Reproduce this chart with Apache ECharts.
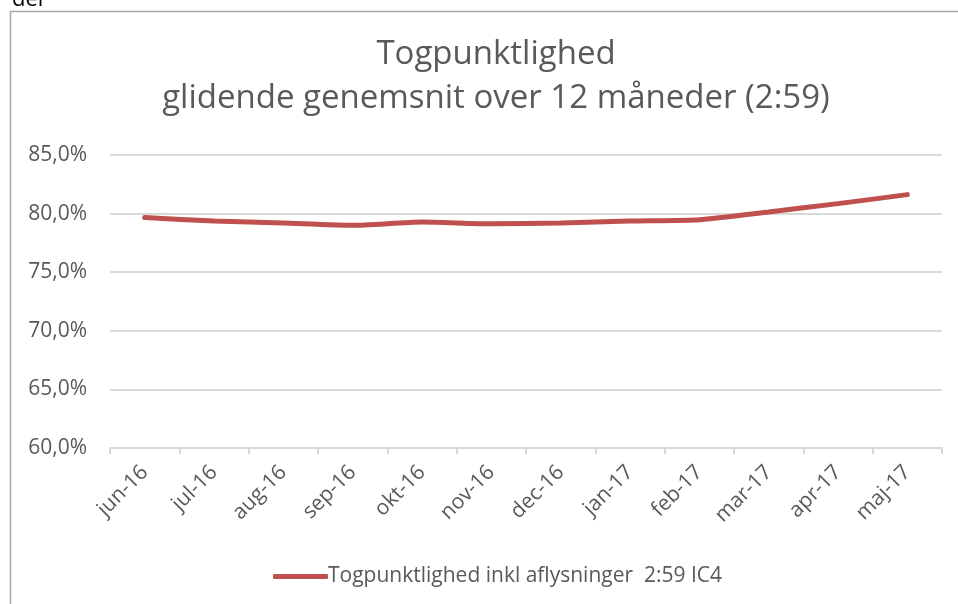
<!DOCTYPE html>
<html>
<head>
<meta charset="utf-8">
<script src="https://cdn.jsdelivr.net/npm/echarts@6/dist/echarts.min.js"></script>
<style>html,body{margin:0;padding:0;background:#fff;}#c{width:958px;height:604px;}</style>
</head>
<body>
<div id="c"></div>
<script>
const categories = ['jun-16','jul-16','aug-16','sep-16','okt-16','nov-16','dec-16','jan-17','feb-17','mar-17','apr-17','maj-17'];
const values = [79.66, 79.37, 79.2, 79.0, 79.28, 79.13, 79.2, 79.37, 79.48, 80.14, 80.85, 81.62];
const seriesName = 'Togpunktlighed inkl aflysninger  2:59 IC4';
const titleLines = ['Togpunktlighed', 'glidende genemsnit over 12 måneder (2:59)'];
const yTicks = {min: 60, max: 85, interval: 5};

const chart = echarts.init(document.getElementById('c'));
const font = '"Open Sans", sans-serif';
chart.setOption({
  animation: false,
  backgroundColor: '#fff',
  graphic: [
    {type: 'rect', shape: {x: 10.5, y: 11.5, width: 960, height: 610}, style: {fill: 'none', stroke: '#a6a6a6', lineWidth: 1.5}, silent: true},
    {type: 'text', x: 12, y: 11, style: {text: 'del', font: '22px "Open Sans"', fill: '#000', verticalAlign: 'bottom'}}
  ],
  title: {
    text: titleLines.join('\n'),
    left: 491,
    textAlign: 'center',
    top: 28,
    textStyle: {fontFamily: font, fontSize: 33, fontWeight: 'normal', color: '#595959', lineHeight: 44}
  },
  legend: {
    left: 268,
    top: 561,
    itemWidth: 55,
    itemHeight: 5,
    itemGap: 10,
    icon: 'roundRect',
    textStyle: {fontFamily: font, fontSize: 21, color: '#595959', padding: [0,0,0,-5]},
    data: [{name: seriesName}]
  },
  grid: {left: 110, right: 16, top: 155, bottom: 156, containLabel: false},
  xAxis: {
    type: 'category',
    data: categories,
    boundaryGap: true,
    axisLine: {lineStyle: {color: '#d9d9d9', width: 2}},
    axisTick: {show: true, length: 6, lineStyle: {color: '#d9d9d9', width: 2}},
    axisLabel: {rotate: 45, color: '#595959', fontFamily: font, fontSize: 21, margin: 21}
  },
  yAxis: {
    type: 'value',
    min: yTicks.min, max: yTicks.max, interval: yTicks.interval,
    axisLine: {show: false},
    axisTick: {show: false},
    splitLine: {lineStyle: {color: '#d9d9d9', width: 2}},
    axisLabel: {color: '#595959', fontFamily: font, fontSize: 21, margin: 23,
      formatter: v => v.toFixed(1).replace('.', ',') + '%'}
  },
  series: [{
    name: seriesName,
    type: 'line',
    data: values,
    smooth: 0.2,
    symbol: 'none',
    lineStyle: {color: '#c0504d', width: 5, cap: 'round'},
    itemStyle: {color: '#c0504d'}
  }]
});
</script>
</body>
</html>
